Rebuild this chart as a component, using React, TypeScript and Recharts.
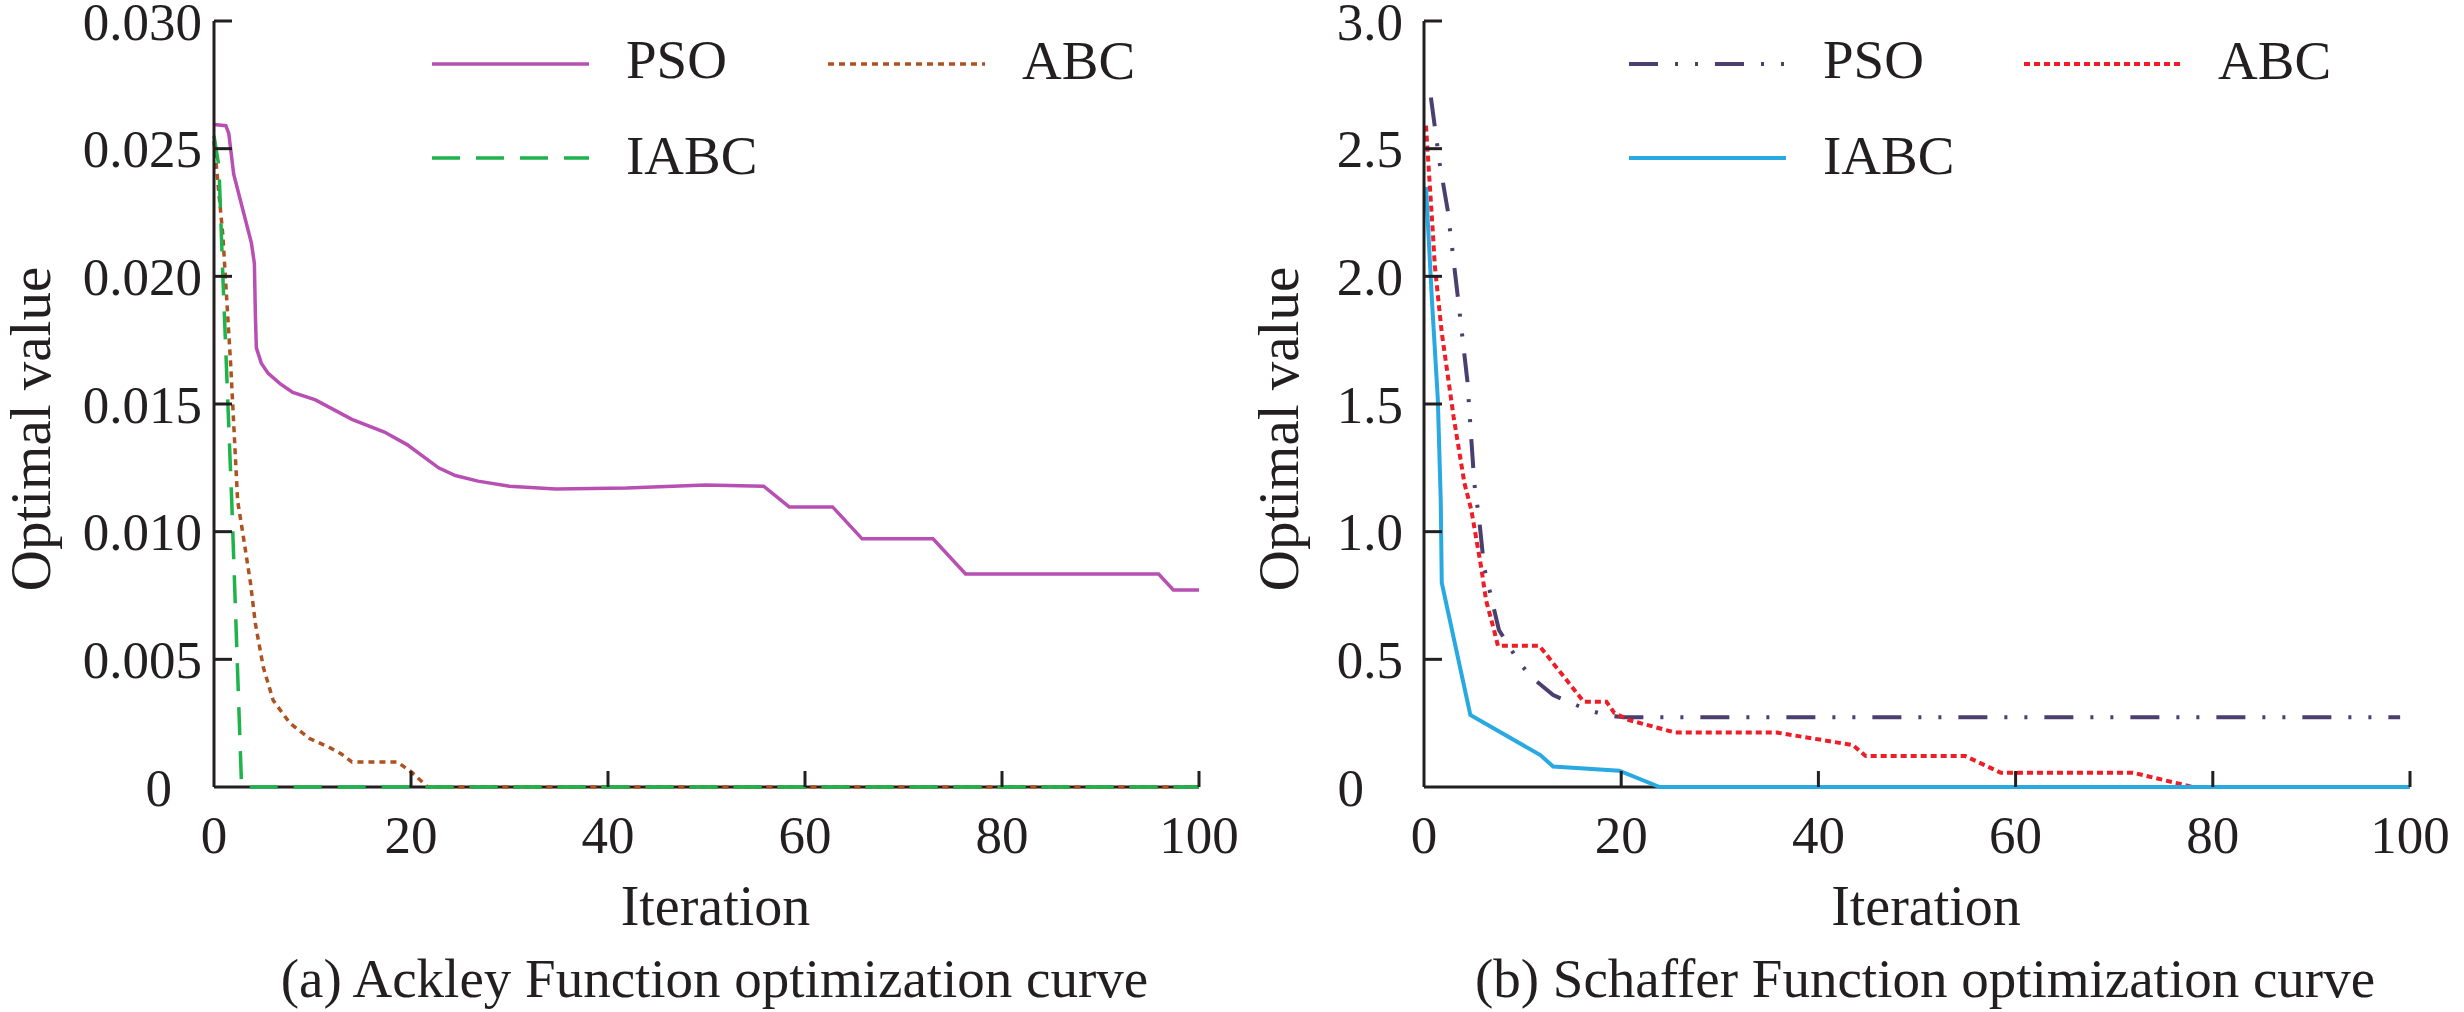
import React from 'react';
import { LineChart, Line, XAxis, YAxis, Legend } from 'recharts';

const FONT = '"Liberation Serif", "Times New Roman", serif';
const INK = '#231F20';

const seriesNames = ['PSO', 'ABC', 'IABC'];
const iterationTicks = [0, 20, 40, 60, 80, 100];
const iterationLabels = ['0', '20', '40', '60', '80', '100'];

// x-axis baseline (drawn as the first line so the curves lie on top of it)
const baselineIter = [0, 100];
const baselineVal = [0, 0];

// ---------- (a) Ackley ----------
const ackleyYTicks = [0, 0.005, 0.01, 0.015, 0.02, 0.025, 0.03];
const ackleyYLabels = ['0', '0.005', '0.010', '0.015', '0.020', '0.025', '0.030'];

const ackleyPsoIter = [0, 1.2, 1.5, 2.0, 3.0, 3.8, 4.1, 4.2, 4.3, 4.8, 5.5, 6.7, 8, 10.3, 14, 17.3, 19.6, 22.8, 24.5, 26.8, 30, 34.7, 41.9, 49.9, 55.8, 58.4, 62.8, 65.8, 73, 76.3, 95.9, 97.4, 100];
const ackleyPsoVal = [0.02595, 0.0259, 0.0256, 0.024, 0.0225, 0.0213, 0.0205, 0.0185, 0.0172, 0.0166, 0.0162, 0.0158, 0.01545, 0.01516, 0.0144, 0.0139, 0.01341, 0.0125, 0.0122, 0.01198, 0.01178, 0.01167, 0.01171, 0.01183, 0.01178, 0.01097, 0.01097, 0.00972, 0.00972, 0.00834, 0.00834, 0.00772, 0.00772];

const ackleyAbcIter = [0, 0.9, 1.7, 2.4, 2.9, 3.7, 4.2, 5, 6, 7.7, 9.7, 11.8, 12.9, 14, 18.6, 20, 21.7, 100];
const ackleyAbcVal = [0.0253, 0.0216, 0.0165, 0.0112, 0.01, 0.008, 0.0064, 0.0047, 0.0034, 0.0025, 0.0019, 0.00153, 0.0013, 0.00098, 0.00098, 0.0006, 0, 0];

const ackleyIabcIter = [0, 0.5, 0.9, 1.8, 2.8, 100];
const ackleyIabcVal = [0.0255, 0.0243, 0.02, 0.0112, 0, 0];

// ---------- (b) Schaffer ----------
const schafferYTicks = [0, 0.5, 1, 1.5, 2, 2.5, 3];
const schafferYLabels = ['0', '0.5', '1.0', '1.5', '2.0', '2.5', '3.0'];

const schafferPsoIter = [0.7, 1.6, 2.4, 3.4, 4.4, 5.1, 5.6, 6.1, 7.6, 9.7, 11, 13.1, 14.9, 16.7, 18.7, 20.3, 99];
const schafferPsoVal = [2.7, 2.44, 2.26, 1.93, 1.59, 1.19, 1.046, 0.86, 0.615, 0.485, 0.427, 0.36, 0.33, 0.3, 0.28, 0.273, 0.273];

const schafferAbcIter = [0.2, 0.6, 0.9, 1.1, 1.8, 3, 4.1, 4.8, 5.8, 6.3, 7.1, 7.5, 11.7, 16.2, 18.5, 19.3, 20.8, 25.5, 35.8, 40.4, 43.5, 44.8, 54.9, 58.5, 71.9, 78, 100];
const schafferAbcVal = [2.59, 2.35, 2.17, 2.04, 1.78, 1.45, 1.19, 1.085, 0.86, 0.73, 0.615, 0.553, 0.553, 0.334, 0.334, 0.29, 0.262, 0.213, 0.213, 0.184, 0.164, 0.121, 0.121, 0.056, 0.056, 0, 0];

const schafferIabcIter = [0.2, 0.8, 1.4, 1.7, 1.8, 4.7, 11.8, 13.1, 19.8, 23.9, 100];
const schafferIabcVal = [2.35, 1.91, 1.52, 1.12, 0.8, 0.282, 0.125, 0.08, 0.064, 0, 0];

const zip = (xs: number[], ys: number[]) => xs.map((t, i) => ({ t, v: ys[i] }));

type Style = { color: string; dash?: string; width: number };

type PanelCfg = {
  width: number;
  margin: { top: number; left: number; right: number; bottom: number };
  yDomain: [number, number];
  yTicks: number[];
  yLabels: string[];
  labelGap: number;
  zeroGap: number;
  series: { name: string; data: { t: number; v: number }[]; style: Style }[];
  legendX: number;
  legendCol: number;
  yTitleX: number;
  caption: string;
};

const panels: PanelCfg[] = [
  {
    width: 1262,
    margin: { top: 21, left: 213, right: 63, bottom: 224 },
    yDomain: [0, 0.03],
    yTicks: ackleyYTicks,
    yLabels: ackleyYLabels,
    labelGap: 12,
    zeroGap: 42,
    series: [
      { name: seriesNames[0], data: zip(ackleyPsoIter, ackleyPsoVal), style: { color: '#B84FB3', width: 3.5 } },
      { name: seriesNames[1], data: zip(ackleyAbcIter, ackleyAbcVal), style: { color: '#AD5220', dash: '6 5', width: 3.5 } },
      { name: seriesNames[2], data: zip(ackleyIabcIter, ackleyIabcVal), style: { color: '#1FB34B', dash: '28 16', width: 3.5 } },
    ],
    legendX: 432,
    legendCol: 396,
    yTitleX: 50,
    caption: '(a) Ackley Function optimization curve',
  },
  {
    width: 1234,
    margin: { top: 21, left: 193, right: 54, bottom: 224 },
    yDomain: [0, 3],
    yTicks: schafferYTicks,
    yLabels: schafferYLabels,
    labelGap: 21,
    zeroGap: 60,
    series: [
      { name: seriesNames[0], data: zip(schafferPsoIter, schafferPsoVal), style: { color: '#4A3F6E', dash: '29 17 3 17 3 17', width: 4 } },
      { name: seriesNames[1], data: zip(schafferAbcIter, schafferAbcVal), style: { color: '#EE1D26', dash: '6 4', width: 4 } },
      { name: seriesNames[2], data: zip(schafferIabcIter, schafferIabcVal), style: { color: '#29A9E1', width: 4 } },
    ],
    legendX: 399,
    legendCol: 395,
    yTitleX: 68,
    caption: '(b) Schaffer Function optimization curve',
  },
];

const HEIGHT = 1012;

function Panel({ cfg }: { cfg: PanelCfg }) {
  const { width, margin } = cfg;
  const plotLeft = margin.left + 1;
  const plotRight = width - margin.right;
  const plotTop = margin.top;
  const plotBottom = HEIGHT - margin.bottom - 1;
  const plotCx = (plotLeft + plotRight) / 2;
  const plotCy = (plotTop + plotBottom) / 2;

  const renderYTick = (p: any) => {
    const value = p.payload.value;
    const idx = cfg.yTicks.indexOf(value);
    const label = idx >= 0 ? cfg.yLabels[idx] : String(value);
    const gap = value === 0 ? cfg.zeroGap : cfg.labelGap;
    return (
      <g>
        {value !== 0 && <line x1={p.x} x2={p.x + 18} y1={p.y} y2={p.y} stroke={INK} strokeWidth={3} />}
        <text x={p.x - gap} y={p.y} dy="0.35em" textAnchor="end" fontFamily={FONT} fontSize={53} fill={INK}>
          {label}
        </text>
      </g>
    );
  };

  const renderXTick = (p: any) => {
    const value = p.payload.value;
    const idx = iterationTicks.indexOf(value);
    const label = idx >= 0 ? iterationLabels[idx] : String(value);
    return (
      <g>
        {value !== 0 && <line x1={p.x} x2={p.x} y1={p.y} y2={p.y - 16} stroke={INK} strokeWidth={3} />}
        <text x={p.x} y={p.y + 66} textAnchor="middle" fontFamily={FONT} fontSize={53} fill={INK}>
          {label}
        </text>
      </g>
    );
  };

  const xLabel = () => (
    <g>
      <text x={plotCx + 9} y={925} textAnchor="middle" fontFamily={FONT} fontSize={56} fill={INK}>
        Iteration
      </text>
      <text x={plotCx + 8} y={997} textAnchor="middle" fontFamily={FONT} fontSize={55} fill={INK}>
        {cfg.caption}
      </text>
    </g>
  );

  const yLabel = () => (
    <text
      transform={`translate(${cfg.yTitleX}, ${plotCy + 25}) rotate(-90)`}
      textAnchor="middle"
      fontFamily={FONT}
      fontSize={57}
      fill={INK}
    >
      Optimal value
    </text>
  );

  const legendPos = [
    { x: cfg.legendX, y: 64, ty: 78 },
    { x: cfg.legendX + cfg.legendCol, y: 64, ty: 79 },
    { x: cfg.legendX, y: 158, ty: 174 },
  ];

  const renderLegend = () => (
    <svg width={width} height={200} style={{ display: 'block' }}>
      {cfg.series.map((s, i) => (
        <g key={s.name}>
          <line
            x1={legendPos[i].x}
            x2={legendPos[i].x + 157}
            y1={legendPos[i].y}
            y2={legendPos[i].y}
            stroke={s.style.color}
            strokeWidth={s.style.width}
            strokeDasharray={s.style.dash}
          />
          <text x={legendPos[i].x + 194} y={legendPos[i].ty} fontFamily={FONT} fontSize={55} fill={INK}>
            {s.name}
          </text>
        </g>
      ))}
    </svg>
  );

  return (
    <LineChart width={width} height={HEIGHT} margin={margin}>
      <XAxis
        dataKey="t"
        type="number"
        domain={[0, 100]}
        ticks={iterationTicks}
        interval={0}
        height={1}
        axisLine={false}
        tickLine={false}
        tickSize={0}
        tickMargin={0}
        tick={renderXTick}
        label={xLabel}
      />
      <YAxis
        type="number"
        domain={cfg.yDomain}
        ticks={cfg.yTicks}
        interval={0}
        width={1}
        axisLine={{ stroke: INK, strokeWidth: 3 }}
        tickLine={false}
        tickSize={0}
        tickMargin={0}
        tick={renderYTick}
        label={yLabel}
      />
      <Legend
        layout="horizontal"
        verticalAlign="middle"
        align="center"
        wrapperStyle={{ position: 'absolute', left: 0, top: 0, width: width, height: 200, pointerEvents: 'none' }}
        content={renderLegend}
      />
      <Line
        key="baseline"
        data={zip(baselineIter, baselineVal)}
        dataKey="v"
        name="baseline"
        type="linear"
        stroke={INK}
        strokeWidth={3}
        dot={false}
        activeDot={false}
        isAnimationActive={false}
        legendType="none"
      />
      {cfg.series.map((s) => (
        <Line
          key={s.name}
          data={s.data}
          dataKey="v"
          name={s.name}
          type="linear"
          stroke={s.style.color}
          strokeWidth={s.style.width}
          strokeDasharray={s.style.dash}
          dot={false}
          activeDot={false}
          isAnimationActive={false}
        />
      ))}
    </LineChart>
  );
}

export default function App() {
  return (
    <div style={{ position: 'absolute', left: 0, top: 0, width: 2464, height: 1012, background: '#ffffff', overflow: 'hidden' }}>
      <div style={{ position: 'absolute', left: 0, top: 0 }}>
        <Panel cfg={panels[0]} />
      </div>
      <div style={{ position: 'absolute', left: 1230, top: 0 }}>
        <Panel cfg={panels[1]} />
      </div>
    </div>
  );
}
